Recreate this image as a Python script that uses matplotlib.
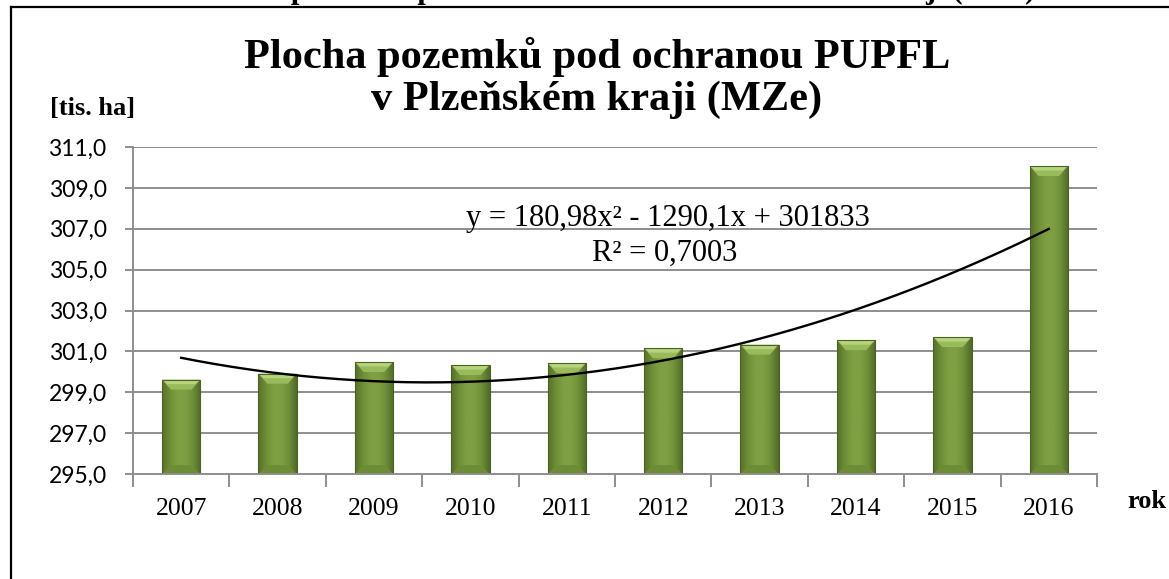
import numpy as np
import matplotlib
matplotlib.use("Agg")
import matplotlib.pyplot as plt
from matplotlib.patches import Polygon, Rectangle
from matplotlib.colors import LinearSegmentedColormap
from matplotlib.lines import Line2D

# ---- data ----
years = ["2007", "2008", "2009", "2010", "2011", "2012", "2013", "2014", "2015", "2016"]
area_tis_ha = [299.62, 299.91, 300.48, 300.33, 300.43, 301.16, 301.33, 301.55, 301.70, 310.07]
y_ticks = [295.0, 297.0, 299.0, 301.0, 303.0, 305.0, 307.0, 309.0, 311.0]
title_text = "Plocha pozemků pod ochranou PUPFL\nv Plzeňském kraji (MZe)"
caption_text = "Plocha pozemků pod ochranou PUPFL v Plzeňském kraji (MZe)"
unit_label = "[tis. ha]"
x_label = "rok"
eq_text = "y = 180,98x² - 1290,1x + 301833"
r2_text = "R² = 0,7003"

W, H = 1169, 579
fig = plt.figure(figsize=(W / 100, H / 100), dpi=100)
fig.patch.set_facecolor("white")

def fx(px):
    return px / W

def fy(py):
    return 1 - py / H

ax_left, ax_right, ax_top, ax_bottom = 133, 1097, 147, 474
ax = fig.add_axes([fx(ax_left), fy(ax_bottom), fx(ax_right - ax_left), (ax_bottom - ax_top) / H])

n = len(years)
xs = np.arange(n)
ymin, ymax = y_ticks[0], y_ticks[-1]
ax.set_xlim(-0.5, n - 0.5)
ax.set_ylim(ymin, ymax)

grid_col = "#8e8e8e"
for t in y_ticks[1:]:
    ax.axhline(t, color=grid_col, lw=1.4, zorder=0)

# bars with gradient + bevel
bw = 0.4
side = LinearSegmentedColormap.from_list(
    "side", ["#55702a", "#6f8e38", "#7f9f43", "#7f9f43", "#6f8e38", "#50692a"])
grad = np.linspace(0, 1, 64).reshape(1, -1)
px_per_x = (ax_right - ax_left) / n
px_per_y = (ax_bottom - ax_top) / (ymax - ymin)
inset = 9 / px_per_x
bev_h = 10 / px_per_y
bot_h = 9 / px_per_y

for x, v in zip(xs, area_tis_ha):
    x0, x1 = x - bw / 2, x + bw / 2
    rect = Rectangle((x0, ymin), bw, v - ymin, facecolor="#7a9a3e",
                     edgecolor="none", zorder=2)
    ax.add_patch(rect)
    im = ax.imshow(grad, cmap=side, extent=[x0, x1, ymin, v], aspect="auto",
                   zorder=2.1, interpolation="bilinear")
    im.set_clip_path(rect)
    top = Polygon([[x0, v], [x1, v], [x1 - inset, v - bev_h], [x0 + inset, v - bev_h]],
                  closed=True, facecolor="#9abb5c", edgecolor="none", zorder=2.3)
    ax.add_patch(top)
    top2 = Polygon([[x0 + 0.01, v - 0.02], [x1 - 0.01, v - 0.02],
                    [x1 - inset * 0.6, v - bev_h * 0.45], [x0 + inset * 0.6, v - bev_h * 0.45]],
                   closed=True, facecolor="#b6d47e", edgecolor="none", zorder=2.35)
    ax.add_patch(top2)
    bot = Polygon([[x0, ymin], [x1, ymin], [x1 - inset, ymin + bot_h], [x0 + inset, ymin + bot_h]],
                  closed=True, facecolor="#6d8c36", edgecolor="none", zorder=2.3)
    ax.add_patch(bot)
    ax.add_patch(Rectangle((x0, ymin), bw, v - ymin, facecolor="none",
                           edgecolor="#4a6222", lw=0.8, zorder=2.5))

# polynomial trend (order 2) fitted to data
t = np.arange(1, n + 1)
coef = np.polyfit(t, np.array(area_tis_ha) * 1000, 2)
tt = np.linspace(1, n, 300)
ax.plot(tt - 1, np.polyval(coef, tt) / 1000, color="black", lw=1.7, zorder=4)

# axes styling
for s in ["top", "right"]:
    ax.spines[s].set_visible(False)
for s in ["left", "bottom"]:
    ax.spines[s].set_color(grid_col)
    ax.spines[s].set_linewidth(1.4)

ax.set_yticks(y_ticks)
ax.set_yticklabels([f"{v:.1f}".replace(".", ",") for v in y_ticks],
                   fontfamily="Lato", fontsize=16.5)
ax.tick_params(axis="y", length=6, width=1.4, color=grid_col, pad=13)
ax.set_xticks(xs)
ax.set_xticklabels(years, fontfamily="Liberation Serif", fontsize=18.5)
ax.set_xticks(np.arange(-0.5, n, 1.0), minor=True)
ax.tick_params(axis="x", which="major", length=0, pad=17)
ax.tick_params(axis="x", which="minor", length=9, width=1.4, color=grid_col)
for lab in ax.get_yticklabels() + ax.get_xticklabels():
    lab.set_color("black")

# texts
fig.text(fx(597), fy(78), title_text, ha="center", va="center", fontsize=30.5,
         fontweight="bold", fontfamily="Liberation Serif", linespacing=1.12)
fig.text(fx(50), fy(115), unit_label, ha="left", va="baseline", fontsize=19,
         fontweight="bold", fontfamily="Liberation Serif")
fig.text(fx(1127), fy(508), x_label, ha="left", va="baseline", fontsize=19,
         fontweight="bold", fontfamily="Liberation Serif")
fig.text(fx(668), fy(226), eq_text, ha="center", va="baseline", fontsize=22,
         fontfamily="Liberation Serif")
fig.text(fx(665), fy(261), r2_text, ha="center", va="baseline", fontsize=22,
         fontfamily="Liberation Serif")
# caption line cut off at the top of the image (only descenders visible)
fig.text(fx(1035), fy(-2), caption_text, ha="right", va="baseline", fontsize=22,
         fontweight="bold", fontfamily="Liberation Serif")

# frame (left and top edges visible)
fig.add_artist(Line2D([fx(10.5), fx(10.5)], [fy(6.5), 0], transform=fig.transFigure,
                      color="black", lw=1.6))
fig.add_artist(Line2D([fx(10.5), 1], [fy(6.5), fy(6.5)], transform=fig.transFigure,
                      color="black", lw=1.6))

fig.savefig("out.png", dpi=100, facecolor="white")
